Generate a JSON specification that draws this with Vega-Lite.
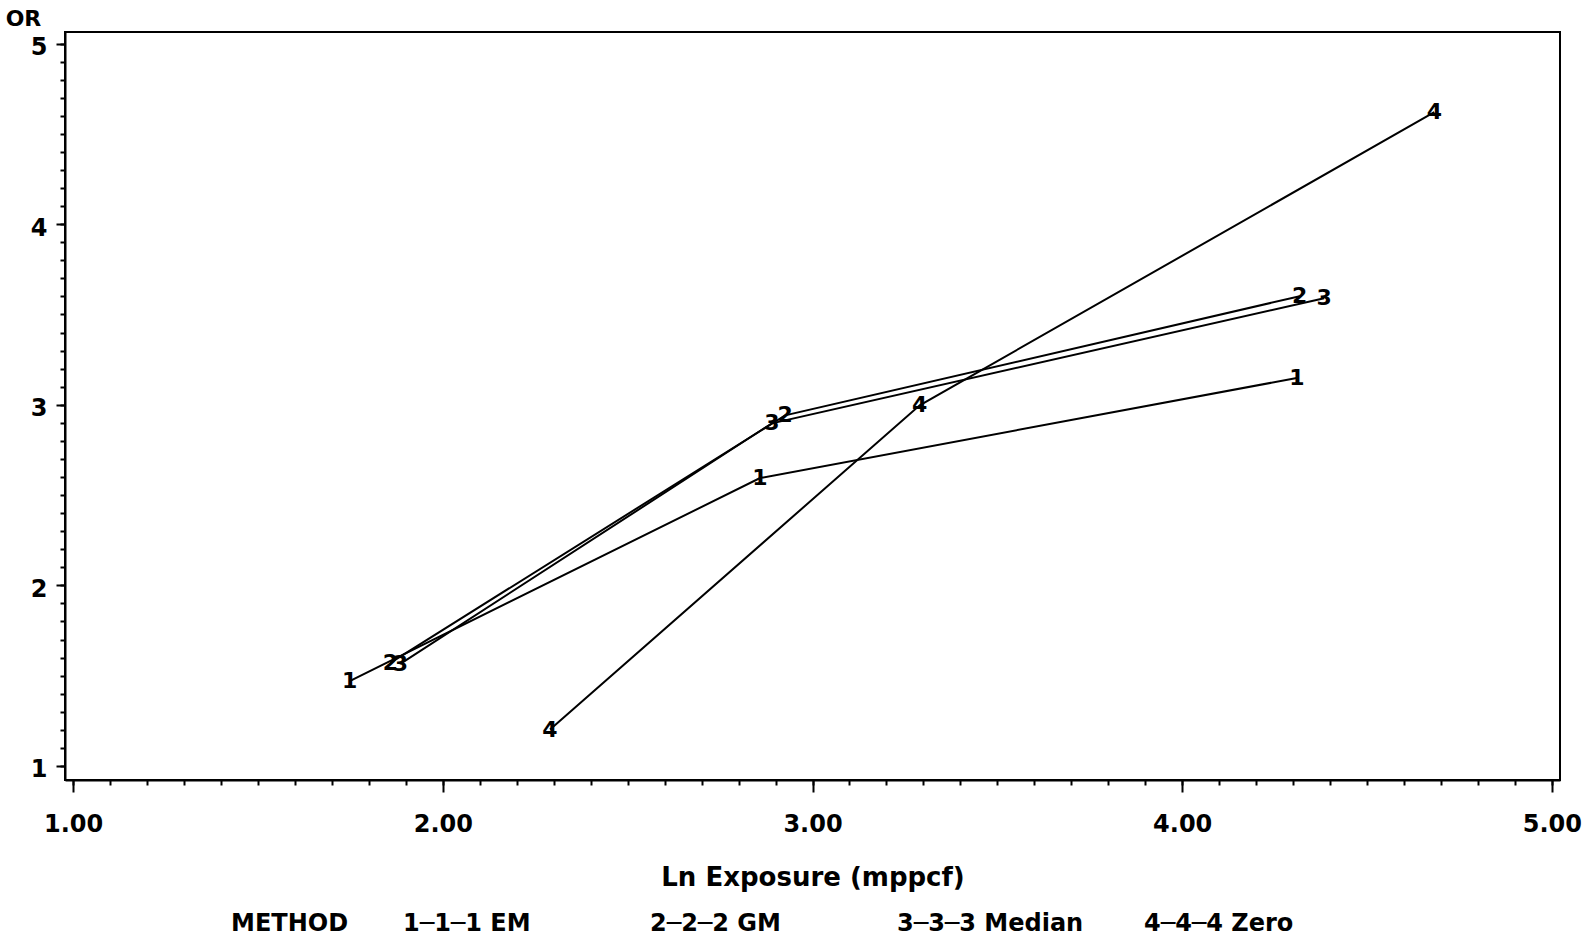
{
  "$schema": "https://vega.github.io/schema/vega-lite/v6.json",
  "width": 1495,
  "height": 748,
  "autosize": {"type": "none"},
  "padding": {"left": 65, "top": 32, "right": 31, "bottom": 162},
  "background": "white",
  "config": {
    "view": {"stroke": "black", "strokeWidth": 2},
    "font": "DejaVu Sans"
  },
  "data": {
    "values": [
      {"method": "EM", "symbol": "1", "exposure": 1.748, "or": 1.47},
      {"method": "EM", "symbol": "1", "exposure": 2.858, "or": 2.594},
      {"method": "EM", "symbol": "1", "exposure": 4.31, "or": 3.148},
      {"method": "GM", "symbol": "2", "exposure": 1.858, "or": 1.571},
      {"method": "GM", "symbol": "2", "exposure": 2.926, "or": 2.941},
      {"method": "GM", "symbol": "2", "exposure": 4.318, "or": 3.601},
      {"method": "Median", "symbol": "3", "exposure": 1.885, "or": 1.565},
      {"method": "Median", "symbol": "3", "exposure": 2.89, "or": 2.897},
      {"method": "Median", "symbol": "3", "exposure": 4.384, "or": 3.59},
      {"method": "Zero", "symbol": "4", "exposure": 2.29, "or": 1.201},
      {"method": "Zero", "symbol": "4", "exposure": 3.29, "or": 2.997},
      {"method": "Zero", "symbol": "4", "exposure": 4.682, "or": 4.62}
    ]
  },
  "layer": [
    {
      "mark": {"type": "line", "color": "black", "strokeWidth": 2},
      "encoding": {
        "x": {
          "field": "exposure", "type": "quantitative",
          "scale": {"domain": [0.978, 5.022], "nice": false, "zero": false},
          "axis": {
            "orient": "bottom",
            "values": [1, 2, 3, 4, 5], "format": ".2f", "grid": false,
            "title": "Ln Exposure (mppcf)",
            "domainColor": "black", "domainWidth": 2,
            "tickColor": "black", "tickWidth": 2, "tickSize": 12,
            "labelFont": "DejaVu Sans", "labelFontWeight": "bold", "labelFontSize": 24,
            "labelColor": "black", "labelPadding": 20, "labelFlush": false, "labelOverlap": false,
            "titleFont": "DejaVu Sans", "titleFontWeight": "bold", "titleFontSize": 26,
            "titleColor": "black", "titlePadding": 28
          }
        },
        "y": {
          "field": "or", "type": "quantitative",
          "scale": {"domain": [0.922, 5.064], "nice": false, "zero": false},
          "axis": {
            "orient": "left",
            "values": [1, 2, 3, 4, 5], "format": "d", "grid": false,
            "title": "OR", "titleAngle": 0, "titleX": -42, "titleY": -14,
            "titleAlign": "center", "titleBaseline": "middle",
            "domainColor": "black", "domainWidth": 2,
            "tickColor": "black", "tickWidth": 2, "tickSize": 9,
            "labelFont": "DejaVu Sans", "labelFontWeight": "bold", "labelFontSize": 24,
            "labelColor": "black", "labelPadding": 9, "labelOffset": 4, "labelFlush": false, "labelOverlap": false,
            "titleFont": "DejaVu Sans", "titleFontWeight": "bold", "titleFontSize": 22,
            "titleColor": "black"
          }
        },
        "color": {
          "field": "method", "type": "nominal",
          "scale": {"range": ["black", "black", "black", "black"]},
          "legend": {
            "orient": "none", "legendX": 166, "legendY": 880,
            "direction": "horizontal", "columns": 4, "gridAlign": "all",
            "columnPadding": 36, "padding": 0,
            "title": "METHOD", "titleOrient": "left", "titlePadding": 30,
            "titleFont": "DejaVu Sans", "titleFontWeight": "bold", "titleFontSize": 24, "titleColor": "black",
            "symbolSize": 0, "symbolStrokeWidth": 0, "symbolOpacity": 0, "labelOffset": 0,
            "labelFont": "DejaVu Sans", "labelFontWeight": "bold", "labelFontSize": 24, "labelColor": "black",
            "labelLimit": 400,
            "labelExpr": "datum.label == 'EM' ? '1─1─1 EM' : datum.label == 'GM' ? '2─2─2 GM' : datum.label == 'Median' ? '3─3─3 Median' : '4─4─4 Zero'"
          }
        }
      }
    },
    {
      "mark": {"type": "text", "color": "black", "font": "DejaVu Sans", "fontWeight": "bold", "fontSize": 22, "align": "center", "baseline": "middle"},
      "encoding": {
        "x": {
          "field": "exposure", "type": "quantitative",
          "axis": {
            "orient": "bottom",
            "values": [1, 1.1, 1.2, 1.3, 1.4, 1.5, 1.6, 1.7, 1.8, 1.9, 2, 2.1, 2.2, 2.3, 2.4, 2.5, 2.6, 2.7, 2.8, 2.9, 3, 3.1, 3.2, 3.3, 3.4, 3.5, 3.6, 3.7, 3.8, 3.9, 4, 4.1, 4.2, 4.3, 4.4, 4.5, 4.6, 4.7, 4.8, 4.9, 5],
            "labels": false, "domain": false, "grid": false, "title": null,
            "tickColor": "black", "tickWidth": 2, "tickSize": 5
          }
        },
        "y": {
          "field": "or", "type": "quantitative",
          "axis": {
            "orient": "left",
            "values": [1, 1.1, 1.2, 1.3, 1.4, 1.5, 1.6, 1.7, 1.8, 1.9, 2, 2.1, 2.2, 2.3, 2.4, 2.5, 2.6, 2.7, 2.8, 2.9, 3, 3.1, 3.2, 3.3, 3.4, 3.5, 3.6, 3.7, 3.8, 3.9, 4, 4.1, 4.2, 4.3, 4.4, 4.5, 4.6, 4.7, 4.8, 4.9, 5],
            "labels": false, "domain": false, "grid": false, "title": null,
            "tickColor": "black", "tickWidth": 2, "tickSize": 5
          }
        },
        "text": {"field": "symbol"}
      }
    }
  ],
  "resolve": {"axis": {"x": "independent", "y": "independent"}}
}
